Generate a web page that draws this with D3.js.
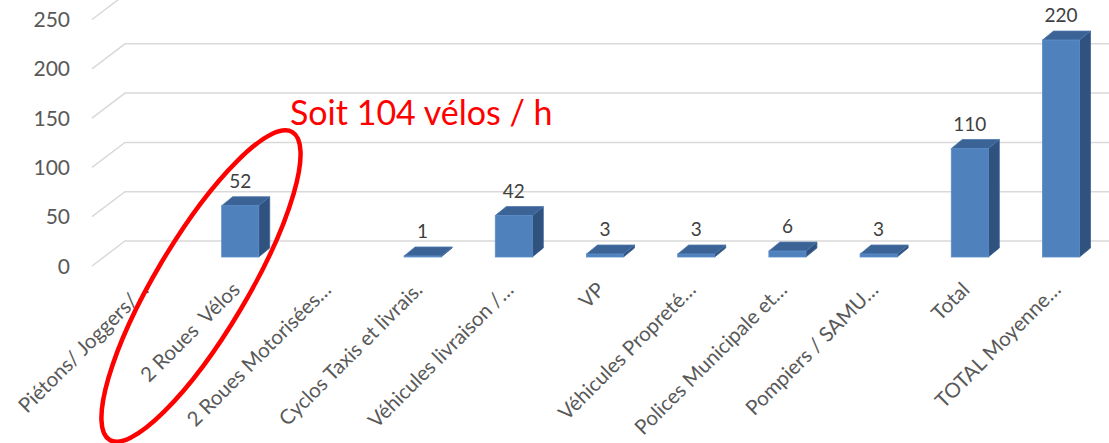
<!DOCTYPE html>
<html>
<head>
<meta charset="utf-8">
<script src="https://cdn.jsdelivr.net/npm/d3@7"></script>
<style>
	body { margin: 0; background: #fff; }
	svg { display: block; font-family: Lato, 'Open Sans', sans-serif; }
</style>
</head>
<body>
<div id="chart"></div>
<script>
const width = 1109;
const height = 443;

// Data ================================================================
const categories = [
	'Piétons/ Joggers/…',
	'2 Roues  Vélos',
	'2 Roues Motorisées…',
	'Cyclos Taxis et livrais.',
	'Véhicules livraison /…',
	'VP',
	'Véhicules Propreté…',
	'Polices Municipale et…',
	'Pompiers / SAMU…',
	'Total',
	'TOTAL Moyenne…',
];
const values = [null, 52, null, 1, 42, 3, 3, 6, 3, 110, 220];
const yTicks = [0, 50, 100, 150, 200, 250];
const annotation = 'Soit 104 vélos / h';

const svg = d3.select('#chart').append('svg').attr('width', width).attr('height', height);

// Scales ================================================================
const x = d3.scaleBand().domain(categories).range([103.4, 1106.6]).paddingInner(0.594).paddingOuter(0.297);
// back wall scale
const y = d3.scaleLinear().domain([0, 250]).range([241, -5.5]);

const floorDx = 33; // back wall -> front edge of floor
const floorDy = 25;
const barFront = 16; // front face of bars sits this much below the back wall
const depthX = 11;
const depthY = -9;

// Gridlines (back wall + slanted side wall) ================================
const grid = svg.append('g').attr('stroke', '#d9d9d9').attr('stroke-width', 1.5).attr('fill', 'none');
grid.selectAll('path')
	.data(yTicks)
	.join('path')
	.attr('d', (d) => `M${125 - floorDx},${y(d) + floorDy}L125,${y(d)}L${width},${y(d)}`);

// Y axis labels
svg.append('g')
	.selectAll('text')
	.data(yTicks)
	.join('text')
	.attr('x', 70)
	.attr('y', (d) => y(d) + floorDy + 7.5)
	.attr('text-anchor', 'end')
	.attr('fill', '#595959')
	.style('font-size', '21px')
	.text((d) => d);

// Bars ================================================================
const bars = categories.map((c, i) => ({ name: c, value: values[i] })).filter((d) => d.value != null);

const barG = svg.append('g')
	.selectAll('g')
	.data(bars)
	.join('g');

const bw = x.bandwidth();
const x0 = (d) => x(d.name);
const yb = y(0) + barFront;
const yt = (d) => y(d.value) + barFront;

// right side
barG.append('path')
	.attr('d', (d) => `M${x0(d) + bw},${yt(d)}L${x0(d) + bw + depthX},${yt(d) + depthY}L${x0(d) + bw + depthX},${yb + depthY}L${x0(d) + bw},${yb}Z`)
	.attr('fill', '#30527f')
	.attr('stroke', '#3d659a')
	.attr('stroke-width', 0.8);

// top
barG.append('path')
	.attr('d', (d) => `M${x0(d)},${yt(d)}L${x0(d) + depthX},${yt(d) + depthY}L${x0(d) + bw + depthX},${yt(d) + depthY}L${x0(d) + bw},${yt(d)}Z`)
	.attr('fill', '#3b6396')
	.attr('stroke', '#4a76ab')
	.attr('stroke-width', 0.8);

// front
barG.append('rect')
	.attr('x', (d) => x0(d))
	.attr('y', (d) => yt(d))
	.attr('width', bw)
	.attr('height', (d) => yb - yt(d))
	.attr('fill', '#4f81bd')
	.attr('stroke', '#5b8cc6')
	.attr('stroke-width', 0.8);

// value labels
barG.append('text')
	.attr('x', (d) => x0(d) + bw / 2)
	.attr('y', (d) => yt(d) + depthY - 9)
	.attr('text-anchor', 'middle')
	.attr('fill', '#404040')
	.style('font-size', '19px')
	.text((d) => d.value);

// Category labels ================================================================
svg.append('g')
	.selectAll('text')
	.data(categories)
	.join('text')
	.attr('transform', (d) => `translate(${x(d) + bw / 2 + 1},291) rotate(-45)`)
	.attr('text-anchor', 'end')
	.attr('fill', '#595959')
	.style('font-size', '20.5px')
	.style('white-space', 'pre')
	.text((d) => d);

// Annotation ================================================================
svg.append('text')
	.attr('x', 290)
	.attr('y', 125)
	.attr('fill', '#ff0000')
	.style('font-size', '34px')
	.text(annotation);

svg.append('ellipse')
	.attr('cx', 201)
	.attr('cy', 286)
	.attr('rx', 179)
	.attr('ry', 46)
	.attr('transform', 'rotate(-59.3,201,286)')
	.attr('fill', 'none')
	.attr('stroke', '#ff0000')
	.attr('stroke-width', 4.5);
</script>
</body>
</html>
